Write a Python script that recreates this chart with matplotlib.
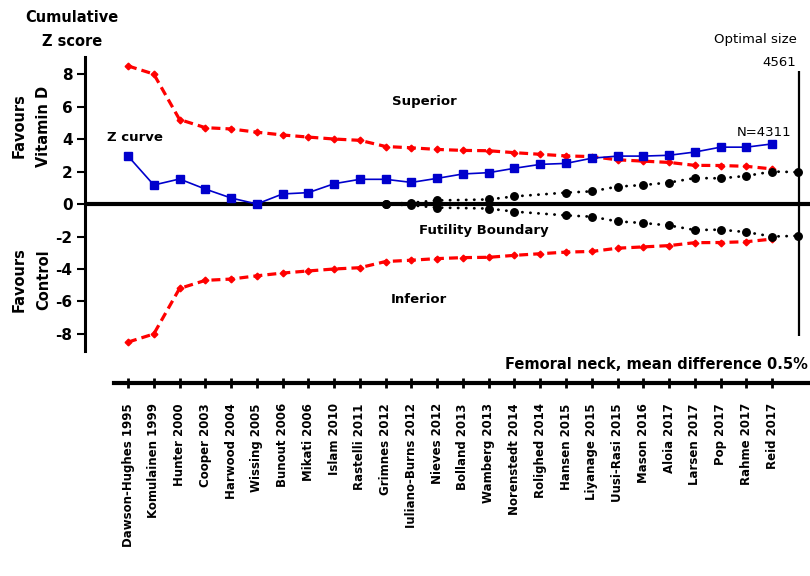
import numpy as np
import matplotlib.pyplot as plt

plt.rcParams['font.family'] = 'DejaVu Sans'

# Trials in order of publication (cumulative meta-analysis)
studies = ['Dawson-Hughes 1995', 'Komulainen 1999', 'Hunter 2000', 'Cooper 2003',
           'Harwood 2004', 'Wissing 2005', 'Bunout 2006', 'Mikati 2006', 'Islam 2010',
           'Rastelli 2011', 'Grimnes 2012', 'Iuliano-Burns 2012', 'Nieves 2012',
           'Bolland 2013', 'Wamberg 2013', 'Norenstedt 2014', 'Rolighed 2014',
           'Hansen 2015', 'Liyanage 2015', 'Uusi-Rasi 2015', 'Mason 2016', 'Aloia 2017',
           'Larsen 2017', 'Pop 2017', 'Rahme 2017', 'Reid 2017']

# cumulative Z score after each trial
z_curve = [2.95, 1.17, 1.54, 0.92, 0.37, 0.0, 0.62, 0.7, 1.25, 1.52, 1.52, 1.33,
           1.58, 1.85, 1.93, 2.2, 2.44, 2.5, 2.82, 2.95, 2.95, 3.0, 3.2, 3.5, 3.5, 3.7]

# monitoring boundary for benefit / harm (symmetric)
boundary = np.array([8.5, 8.0, 5.2, 4.7, 4.62, 4.42, 4.25, 4.12, 4.0, 3.92, 3.54,
                     3.46, 3.36, 3.3, 3.28, 3.16, 3.06, 2.96, 2.92, 2.72, 2.64,
                     2.56, 2.38, 2.37, 2.32, 2.16])

# futility boundary (inner wedge), last point is the optimal information size
futility_studies = ['Grimnes 2012', 'Iuliano-Burns 2012', 'Nieves 2012', 'Wamberg 2013',
                    'Norenstedt 2014', 'Hansen 2015', 'Liyanage 2015', 'Uusi-Rasi 2015',
                    'Mason 2016', 'Aloia 2017', 'Larsen 2017', 'Pop 2017', 'Rahme 2017',
                    'Reid 2017', 'Optimal size']
futility = np.array([0.0, 0.08, 0.22, 0.28, 0.47, 0.7, 0.78, 1.07, 1.17, 1.32,
                     1.6, 1.58, 1.73, 2.0, 1.96])

n_patients = 4311
optimal_size = 4561

x = np.arange(len(studies))
pos = {s: i for i, s in enumerate(studies)}
pos['Optimal size'] = len(studies)
fx = [pos[s] for s in futility_studies]

fig = plt.figure(figsize=(8.1, 5.76), dpi=100)
ax = fig.add_axes([85 / 810, 1 - 350.7 / 576, 1 - 85 / 810, (350.7 - 57) / 576])

red_kw = dict(color='red', ls=(0, (2.8, 1.6)), lw=2.3, marker='D', ms=3.4, zorder=3)
ax.plot(x, boundary, **red_kw)
ax.plot(x, -boundary, **red_kw)

blk_kw = dict(color='black', ls=(0, (0.1, 2.8)), lw=2.0, dash_capstyle='round',
              marker='o', ms=5.4, zorder=3)
ax.plot(fx, futility, **blk_kw)
ax.plot(fx, -futility, **blk_kw)

ax.plot(x, z_curve, color='#0000cc', lw=1.2, marker='s', ms=5.5, zorder=4)

ax.axhline(0, color='black', lw=3, zorder=2)
ax.vlines(pos['Optimal size'] + 0.05, -8.1, 8.2, color='black', lw=1.6)

ax.set_xlim(-1.67, 26.47)
ax.set_ylim(-9.03, 9.05)

ax.spines['top'].set_visible(False)
ax.spines['right'].set_visible(False)
ax.spines['left'].set_linewidth(2.2)
ax.spines['bottom'].set_linewidth(3)
ax.spines['bottom'].set_position(('outward', 23.5))
ax.spines['bottom'].set_bounds(-0.54, 26.47)

ax.set_xticks(x)
ax.set_xticklabels(studies, rotation=90, fontsize=8.5, fontweight='bold')
ax.tick_params(axis='x', direction='inout', length=6.5, width=2, pad=11)
ax.set_yticks(range(-8, 9, 2))
ax.set_yticklabels([str(v) for v in range(-8, 9, 2)], fontsize=11, fontweight='bold')
ax.tick_params(axis='y', direction='out', length=6, width=1.5, pad=3)

# annotations inside the plot
ax.text(11.5, 6.34, 'Superior', ha='center', va='center', fontsize=9.5, fontweight='bold')
ax.text(11.3, -5.9, 'Inferior', ha='center', va='center', fontsize=9.5, fontweight='bold')
ax.text(13.8, -1.66, 'Futility Boundary', ha='center', va='center', fontsize=9.5,
        fontweight='bold')
ax.text(0.27, 4.12, 'Z curve', ha='center', va='center', fontsize=9.5, fontweight='bold')
ax.text(24.7, 4.43, f'N={n_patients}', ha='center', va='center', fontsize=9.5)
ax.text(25.95, 10.1, 'Optimal size', ha='right', va='center', fontsize=9.5, clip_on=False)
ax.text(25.95, 8.74, str(optimal_size), ha='right', va='center', fontsize=9.5, clip_on=False)
ax.text(26.4, -9.85, 'Femoral neck, mean difference 0.5%', ha='right', va='center',
        fontsize=10.5, fontweight='bold', clip_on=False)

# axis titles
fig.text(72 / 810, 1 - 18 / 576, 'Cumulative', ha='center', va='center',
         fontsize=10.5, fontweight='bold')
fig.text(72 / 810, 1 - 41 / 576, 'Z score', ha='center', va='center',
         fontsize=10.5, fontweight='bold')
fig.text(31 / 810, 1 - 126 / 576, 'Favours\nVitamin D', ha='center', va='center',
         rotation=90, fontsize=10.5, fontweight='bold', linespacing=1.8)
fig.text(31 / 810, 1 - 280 / 576, 'Favours\nControl', ha='center', va='center',
         rotation=90, fontsize=10.5, fontweight='bold', linespacing=1.8)

fig.savefig('out.png', dpi=100)
